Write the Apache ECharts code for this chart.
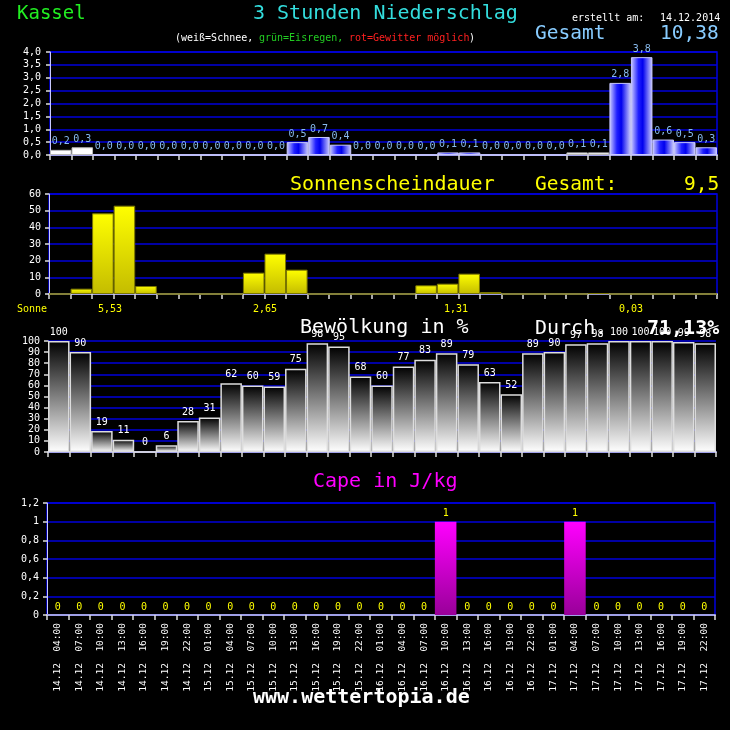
<!DOCTYPE html>
<html><head><meta charset="utf-8">
<script src="https://cdn.jsdelivr.net/npm/echarts@6/dist/echarts.min.js"></script>
<style>html,body{margin:0;padding:0;background:#000}#c{width:730px;height:730px}</style>
</head><body><div id="c"></div>
<script>
const categories = [
  '14.12  04:00','14.12  07:00','14.12  10:00','14.12  13:00','14.12  16:00','14.12  19:00','14.12  22:00',
  '15.12  01:00','15.12  04:00','15.12  07:00','15.12  10:00','15.12  13:00','15.12  16:00','15.12  19:00','15.12  22:00',
  '16.12  01:00','16.12  04:00','16.12  07:00','16.12  10:00','16.12  13:00','16.12  16:00','16.12  19:00','16.12  22:00',
  '17.12  01:00','17.12  04:00','17.12  07:00','17.12  10:00','17.12  13:00','17.12  16:00','17.12  19:00','17.12  22:00'
];
const precipValues = [0.2,0.3,0,0,0,0,0,0,0,0,0,0.5,0.7,0.4,0,0,0,0,0.1,0.1,0,0,0,0,0.1,0.1,2.8,3.8,0.6,0.5,0.3];
const precipKind = ['snow','snow','rain','rain','rain','rain','rain','rain','rain','rain','rain','rain','rain','rain',
  'rain','rain','rain','rain','rain','rain','rain','rain','rain','rain','snow','snow','rain','rain','rain','rain','rain'];
const sunValues = [0,3.2,48.4,53,4.8,0,0,0,0,12.8,24.2,14.6,0,0,0,0,0,5.2,6.2,12.2,1.2,0,0,0,0,0.5,0,0,0,0,0];
const sunDayTotals = ['5,53','2,65','1,31','0,03'];
const cloudValues = [100,90,19,11,0,6,28,31,62,60,59,75,98,95,68,60,77,83,89,79,63,52,89,90,97,98,100,100,100,99,98];
const capeValues = [0,0,0,0,0,0,0,0,0,0,0,0,0,0,0,0,0,0,1,0,0,0,0,0,1,0,0,0,0,0,0];
const precipTotal = '10,38';
const sunTotal = '9,5';
const cloudAverage = '71,13%';
const createdDate = '14.12.2014';

const MONO = '"DejaVu Sans Mono", monospace';
const GRID_BLUE = '#0000dd';

function comma1(v){ return v.toFixed(1).replace('.', ','); }
function capeFmt(v){ return Math.abs(v - Math.round(v)) < 1e-9 ? String(Math.round(v)) : comma1(v); }

function xAxisBase(gridIndex, showLabels){
  return {
    type:'category', gridIndex, data: categories, boundaryGap:true,
    axisLine:{show:true, lineStyle:{color:'#a0a0e8', width:2}},
    axisTick:{show:true, interval:0, length:5, lineStyle:{color:'#dddddd', width:1.5}},
    axisLabel: showLabels ? {show:true, rotate:90, color:'#ffffff', fontFamily:MONO, fontSize:9.5, margin:8, interval:0} : {show:false, interval:0},
    splitLine:{show:false}
  };
}
function yAxisBase(gridIndex, max, interval, fmt, margin){
  return {
    type:'value', gridIndex, min:0, max, interval,
    axisLine:{show:true, lineStyle:{color:'#c8c8ff', width:1}},
    axisTick:{show:true, length:4, lineStyle:{color:'#dddddd', width:1.5}},
    axisLabel:{color:'#ffffff', fontFamily:MONO, fontSize:10, margin: margin, formatter: fmt},
    splitLine:{show:true, lineStyle:{color:GRID_BLUE, width:1.5}}
  };
}

const rainGrad = {type:'linear', x:0, y:0, x2:1, y2:0, colorStops:[
  {offset:0, color:'#d0d0ff'},{offset:0.35, color:'#2020ff'},{offset:0.55, color:'#0000ee'},{offset:1, color:'#d0d0ff'}]};
const snowColor = '#ffffff';

const precipData = precipValues.map((v,i)=>({
  value:v,
  itemStyle: precipKind[i]==='snow'
    ? {color:snowColor, borderColor:'#bbbbbb', borderWidth:1}
    : {color:rainGrad, borderColor:'#c8c8ff', borderWidth:1}
}));

function txt(text, x, y, color, size, extra){
  return Object.assign({type:'text', z:100, style:{
    text, x, y, fill:color, font: (extra && extra.bold ? 'bold ' : '') + size + 'px ' + MONO,
    textAlign:(extra && extra.align) || 'left', align:(extra && extra.align) || 'left',
    textVerticalAlign:'middle', verticalAlign:'middle'
  }});
}

const sunTotalX = [110, 265, 456, 631];

const graphics = [
  txt('Kassel', 17, 14, '#22ee22', 19),
  txt('3 Stunden Niederschlag', 253, 14, '#33dddd', 20),
  txt('erstellt am:', 572, 18, '#ffffff', 10),
  txt(createdDate, 660, 18, '#ffffff', 10),
  txt('(weiß=Schnee, ', 175, 38, '#ffffff', 10),
  txt('grün=Eisregen, ', 259, 38, '#22cc22', 10),
  txt('rot=Gewitter möglich', 349, 38, '#ff2020', 10),
  txt(')', 469, 38, '#ffffff', 10),
  txt('Gesamt', 535, 34, '#88ccff', 19.5),
  txt(precipTotal, 660, 34, '#88ccff', 19.5),
  txt('Sonnenscheindauer', 290, 185, '#ffff00', 20),
  txt('Gesamt:', 535, 185, '#ffff00', 19.5),
  txt(sunTotal, 684, 185, '#ffff00', 19.5),
  txt('Sonne', 17, 309, '#ffff00', 10),
  txt('Bewölkung in %', 300, 328, '#ffffff', 20),
  txt('Durch.', 535, 329, '#ffffff', 20),
  txt(cloudAverage, 647, 329, '#ffffff', 20, {bold:true}),
  txt('Cape in J/kg', 313, 482, '#ff00ff', 20),
  txt('www.wettertopia.de', 253, 698, '#ffffff', 20, {bold:true})
];
sunDayTotals.forEach((t,i)=>graphics.push(txt(t, sunTotalX[i], 309, '#ffff00', 10, {align:'center'})));

const option = {
  backgroundColor:'#000000',
  animation:false,
  grid:[
    {left:50, right:13, top:52, height:103, show:true, borderColor:GRID_BLUE, borderWidth:1.5, backgroundColor:'transparent'},
    {left:49, right:13, top:194, height:100, show:true, borderColor:GRID_BLUE, borderWidth:1.5, backgroundColor:'transparent'},
    {left:48, right:14, top:341, height:111},
    {left:47, right:15, top:503, height:112, show:true, borderColor:GRID_BLUE, borderWidth:1.5, backgroundColor:'transparent'}
  ],
  xAxis:[xAxisBase(0,false), xAxisBase(1,false), xAxisBase(2,false), xAxisBase(3,true)],
  yAxis:[
    yAxisBase(0, 4, 0.5, comma1, 9),
    yAxisBase(1, 60, 10, v=>String(v), 8),
    yAxisBase(2, 100, 10, v=>String(v), 8),
    yAxisBase(3, 1.2, 0.2, capeFmt, 8)
  ],
  series:[
    {type:'bar', xAxisIndex:0, yAxisIndex:0, data:precipData, barCategoryGap:'0%',
     label:{show:true, position:'top', distance:3, color:'#88bbee', fontFamily:MONO, fontSize:10,
            formatter:p=>comma1(p.value)}},
    {type:'bar', xAxisIndex:1, yAxisIndex:1, data:sunValues, barCategoryGap:'0%',
     itemStyle:{color:{type:'linear',x:0,y:0,x2:0,y2:1,colorStops:[{offset:0,color:'#ffff00'},{offset:1,color:'#c4bc00'}]},
                borderColor:'#7a7600', borderWidth:1}},
    {type:'bar', xAxisIndex:2, yAxisIndex:2, data:cloudValues, barCategoryGap:'0%',
     itemStyle:{color:{type:'linear',x:0,y:0,x2:0,y2:1,colorStops:[{offset:0,color:'#000000'},{offset:1,color:'#ffffff'}]},
                borderColor:'#dddddd', borderWidth:1.5},
     label:{show:true, position:'top', distance:4, color:'#ffffff', fontFamily:MONO, fontSize:10}},
    {type:'bar', xAxisIndex:3, yAxisIndex:3, data:capeValues, barCategoryGap:'0%',
     itemStyle:{color:{type:'linear',x:0,y:0,x2:0,y2:1,colorStops:[{offset:0,color:'#ff00ff'},{offset:1,color:'#990099'}]}},
     label:{show:true, position:'top', distance:3, color:'#ffff00', fontFamily:MONO, fontSize:10}}
  ],
  graphic: graphics
};
const chart = echarts.init(document.getElementById('c'));
chart.setOption(option);
</script>
</body></html>
